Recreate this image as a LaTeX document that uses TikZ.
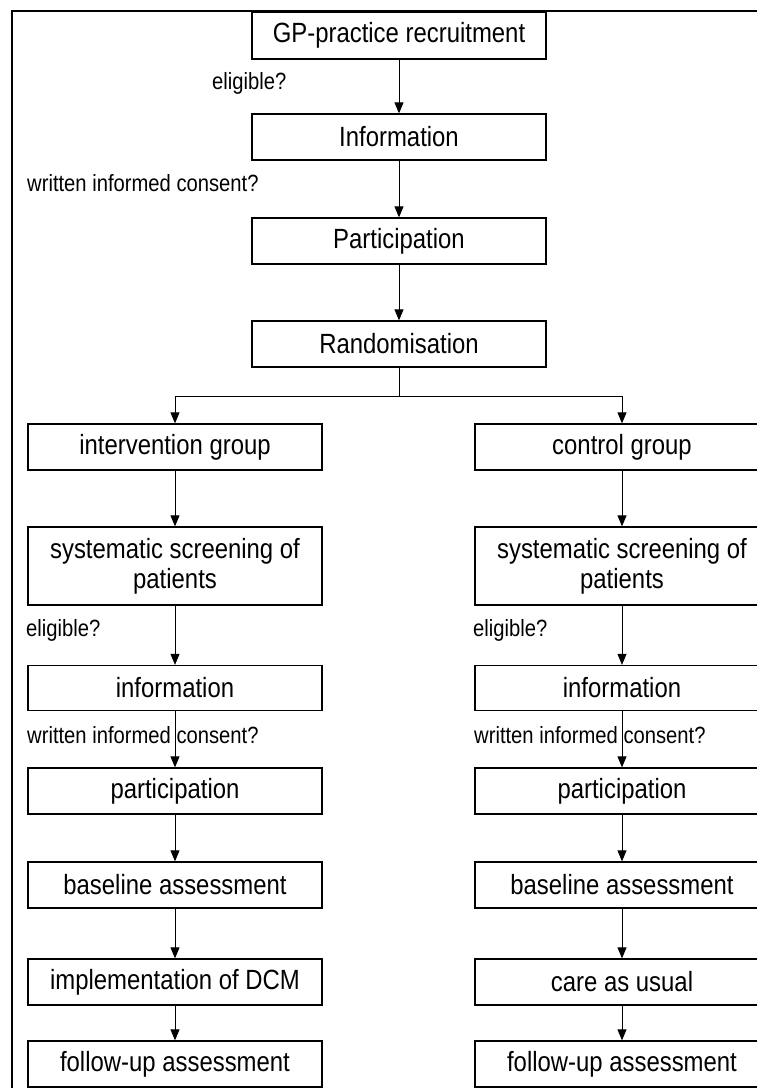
\documentclass[tikz,border=0pt]{standalone}
\usepackage{fontspec}
\setmainfont{Liberation Sans}[FakeStretch=0.86]
\usetikzlibrary{arrows.meta}
\begin{document}
\begin{tikzpicture}[x=1pt,y=-1pt,
  box/.style={draw,line width=1.3pt,minimum width=294pt,minimum height=46pt,inner sep=0pt,font=\fontsize{27.8}{30}\selectfont,align=center},
  lbl/.style={font=\fontsize{23.5}{25}\selectfont,inner sep=0pt},
  arr/.style={-{Triangle[length=11pt,width=9pt]},line width=0.9pt},
  ln/.style={line width=0.9pt}]
\useasboundingbox (0,0) rectangle (757,1088);
\begin{scope}
\clip (0,0) rectangle (757,1088);
\draw[line width=1.3pt] (12,1100) -- (12,11) -- (770,11);
\node[box,minimum height=47pt] (gp) at (399,35.5) {GP-practice recruitment};
\node[box] (inf) at (399,137) {Information};
\node[box] (part) at (399,241) {Participation};
\node[box] (rand) at (399,344) {Randomisation};
\node[box] (ig) at (175,447) {intervention group};
\node[box] (cg) at (622,447) {control group};
\node[box,minimum height=78pt] (is) at (175,566) {systematic screening of\\patients};
\node[box,minimum height=78pt] (cs) at (622,566) {systematic screening of\\patients};
\node[box,minimum height=45pt] (ii) at (175,688) {information};
\node[box,minimum height=45pt] (ci) at (622,688) {information};
\node[box] (ip) at (175,791) {participation};
\node[box] (cp) at (622,791) {participation};
\node[box] (ib) at (175,885) {baseline assessment};
\node[box] (cb) at (622,885) {baseline assessment};
\node[box] (im) at (175,982) {implementation of DCM};
\node[box] (cm) at (622,982) {care as usual};
\node[box] (if) at (175,1064) {follow-up assessment};
\node[box] (cf) at (622,1064) {follow-up assessment};
\coordinate (br) at (399,396);
\draw[arr] (gp) -- (inf);
\draw[arr] (inf) -- (part);
\draw[arr] (part) -- (rand);
\draw[ln] (rand.south) -- (br);
\draw[arr] (br) -| (ig.north);
\draw[arr] (br) -| (cg.north);
\foreach \a/\b in {ig/is,is/ii,ii/ip,ip/ib,ib/im,im/if,cg/cs,cs/ci,ci/cp,cp/cb,cb/cm,cm/cf}
  \draw[arr] (\a) -- (\b);
\node[lbl,anchor=west] (e0) at (212,83) {eligible?};
\node[lbl,anchor=west] (w0) at (27,183) {written informed consent?};
\node[lbl,anchor=west] (e1) at (26,630) {eligible?};
\node[lbl,anchor=west] (e2) at (473,630) {eligible?};
\node[lbl,anchor=west] (w1) at (27,735) {written informed consent?};
\node[lbl,anchor=west] (w2) at (474,735) {written informed consent?};
\end{scope}
\end{tikzpicture}
\end{document}
